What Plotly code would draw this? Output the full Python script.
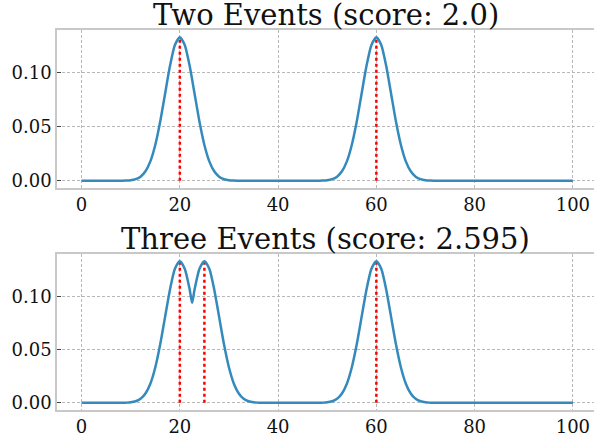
import plotly.graph_objects as go

# ---- data ----
x_vals = list(range(0, 101))

# "Two Events": kernel curve value at each integer x (0..100)
two_events_y = (
    [0.0] * 9 +                                   # x 0..8
    [0.0002, 0.0005, 0.0015, 0.0038, 0.0088, 0.0180, 0.0332, 0.0547, 0.0807,
     0.1065, 0.1258, 0.1330, 0.1258, 0.1065, 0.0807, 0.0547, 0.0332, 0.0180,
     0.0088, 0.0038, 0.0015, 0.0005, 0.0002] +    # x 9..31
    [0.0] * 17 +                                  # x 32..48
    [0.0002, 0.0005, 0.0015, 0.0038, 0.0088, 0.0180, 0.0332, 0.0547, 0.0807,
     0.1065, 0.1258, 0.1330, 0.1258, 0.1065, 0.0807, 0.0547, 0.0332, 0.0180,
     0.0088, 0.0038, 0.0015, 0.0005, 0.0002] +    # x 49..71
    [0.0] * 29                                    # x 72..100
)

# "Three Events": same grid, plus the dip point at x = 22.5
three_x = list(range(0, 23)) + [22.5] + list(range(23, 101))
three_events_y = (
    [0.0] * 9 +                                   # x 0..8
    [0.0002, 0.0005, 0.0015, 0.0038, 0.0088, 0.0180, 0.0332, 0.0547, 0.0807,
     0.1065, 0.1258, 0.1330, 0.1258, 0.1065] +    # x 9..22
    [0.0939] +                                    # x 22.5
    [0.1065, 0.1258, 0.1330, 0.1258, 0.1065, 0.0807, 0.0547, 0.0332, 0.0180,
     0.0088, 0.0038, 0.0015, 0.0005, 0.0002] +    # x 23..36
    [0.0] * 12 +                                  # x 37..48
    [0.0002, 0.0005, 0.0015, 0.0038, 0.0088, 0.0180, 0.0332, 0.0547, 0.0807,
     0.1065, 0.1258, 0.1330, 0.1258, 0.1065, 0.0807, 0.0547, 0.0332, 0.0180,
     0.0088, 0.0038, 0.0015, 0.0005, 0.0002] +    # x 49..71
    [0.0] * 29                                    # x 72..100
)

events_two = [20, 60]
events_three = [20, 25, 60]
event_height = 0.133

titles = ["Two Events (score: 2.0)", "Three Events (score: 2.595)"]
x_ticks = [0, 20, 40, 60, 80, 100]
y_ticks = [0.0, 0.05, 0.10]
y_tick_text = ["0.00", "0.05", "0.10"]

# ---- styling ----
FONT = "DejaVu Serif"
LINE_COLOR = "#348ABD"
EVENT_COLOR = "#FF0000"
GRID_COLOR = "#b8b8b8"
SPINE_COLOR = "#c8c8c8"

W, H = 594, 437
L = 57
top_dom = [1 - 188 / H, 1 - 30 / H]
bot_dom = [1 - 410 / H, 1 - 254 / H]

fig = go.Figure()


def add_panel(xs, ys, events, xaxis, yaxis):
    ex, ey = [], []
    for e in events:
        ex += [e, e, None]
        ey += [0, event_height, None]
    fig.add_trace(go.Scatter(x=ex, y=ey, mode="lines", xaxis=xaxis, yaxis=yaxis,
                             line=dict(color=EVENT_COLOR, width=2.5, dash="dot"),
                             showlegend=False, hoverinfo="skip"))
    fig.add_trace(go.Scatter(x=xs, y=ys, mode="lines", xaxis=xaxis, yaxis=yaxis,
                             line=dict(color=LINE_COLOR, width=2.5, shape="spline",
                                       smoothing=0.6),
                             showlegend=False))


add_panel(x_vals, two_events_y, events_two, "x", "y")
add_panel(three_x, three_events_y, events_three, "x2", "y2")

xcommon = dict(range=[-5, 104.3], tickvals=x_ticks, showgrid=True, gridcolor=GRID_COLOR,
               gridwidth=1, griddash="3px,2px", zeroline=False, showline=True,
               linecolor=SPINE_COLOR, linewidth=1.5, mirror=True, ticks="",
               automargin=False,
               tickfont=dict(family=FONT, size=18, color="#111"), domain=[0, 1])
ycommon = dict(range=[-0.0067, 0.1397], tickvals=y_ticks, ticktext=y_tick_text,
               showgrid=True, gridcolor=GRID_COLOR, gridwidth=1, griddash="3px,2px",
               zeroline=False, showline=True, linecolor=SPINE_COLOR, linewidth=1.5,
               mirror=False, ticks="inside", ticklen=4, tickwidth=1, tickcolor="#444",
               automargin=False,
               tickfont=dict(family=FONT, size=18, color="#111"))

fig.update_layout(
    width=W, height=H,
    margin=dict(l=L, r=0, t=0, b=0, autoexpand=False),
    paper_bgcolor="white", plot_bgcolor="white",
    xaxis=dict(xcommon, anchor="y"),
    yaxis=dict(ycommon, domain=top_dom, anchor="x"),
    xaxis2=dict(xcommon, anchor="y2"),
    yaxis2=dict(ycommon, domain=bot_dom, anchor="x2"),
    annotations=[
        dict(text=titles[0], x=0.5, y=top_dom[1], xref="paper", yref="paper",
             xanchor="center", yanchor="bottom", showarrow=False, yshift=-4,
             font=dict(family=FONT, size=29, color="#111")),
        dict(text=titles[1], x=0.5, y=bot_dom[1], xref="paper", yref="paper",
             xanchor="center", yanchor="bottom", showarrow=False, yshift=-4,
             font=dict(family=FONT, size=29, color="#111")),
    ],
)

fig.write_html("out.html", config={"displayModeBar": False},
               post_script="document.body.style.margin='0';")
